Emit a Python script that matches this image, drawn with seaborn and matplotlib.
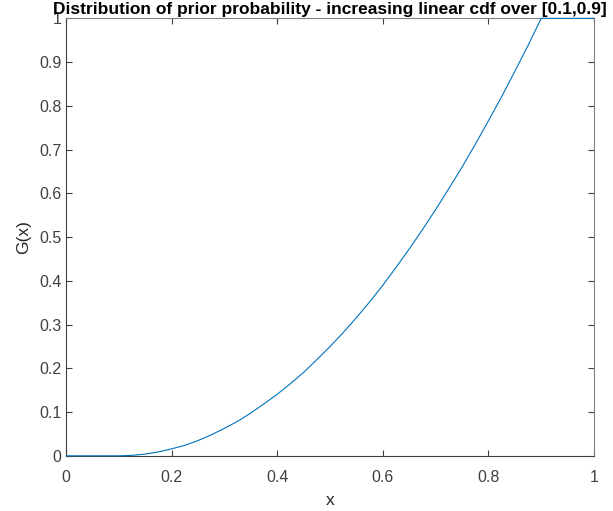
import numpy as np
import pandas as pd
import matplotlib
matplotlib.use("Agg")
import matplotlib.pyplot as plt
import seaborn as sns

# values
x_vals = [0.0, 0.05, 0.1, 0.125, 0.15, 0.175, 0.2, 0.225, 0.25, 0.275, 0.3, 0.325,
          0.35, 0.375, 0.4, 0.425, 0.45, 0.475, 0.5, 0.525, 0.55, 0.575, 0.6, 0.625,
          0.65, 0.675, 0.7, 0.725, 0.75, 0.775, 0.8, 0.825, 0.85, 0.875, 0.9, 0.95, 1.0]
g_vals = [0.0, 0.0, 0.0, 0.001, 0.004, 0.009, 0.016, 0.024, 0.035, 0.048, 0.063, 0.079,
          0.098, 0.119, 0.141, 0.165, 0.191, 0.22, 0.25, 0.282, 0.316, 0.352, 0.39, 0.431,
          0.473, 0.517, 0.563, 0.611, 0.66, 0.712, 0.766, 0.821, 0.879, 0.938, 1.0, 1.0, 1.0]
x_ticks = [0, 0.2, 0.4, 0.6, 0.8, 1]
x_labels = ["0", "0.2", "0.4", "0.6", "0.8", "1"]
y_ticks = [0, 0.1, 0.2, 0.3, 0.4, 0.5, 0.6, 0.7, 0.8, 0.9, 1]
y_labels = ["0", "0.1", "0.2", "0.3", "0.4", "0.5", "0.6", "0.7", "0.8", "0.9", "1"]

df = pd.DataFrame({"x": x_vals, "G": g_vals})

sns.set_style("ticks")
plt.rcParams["font.family"] = ["Liberation Sans", "DejaVu Sans"]

fig = plt.figure(figsize=(6.13, 5.11), dpi=100)
ax = fig.add_axes([0.108, 0.108, 0.861, 0.856])
sns.lineplot(data=df, x="x", y="G", ax=ax, color="#0072BD", linewidth=0.8)
for ln in ax.lines:
    ln.set_clip_on(False)
    ln.set_zorder(5)

ax.set_xlim(0, 1)
ax.set_ylim(0, 1)
ax.set_xticks(x_ticks)
ax.set_xticklabels(x_labels)
ax.set_yticks(y_ticks)
ax.set_yticklabels(y_labels)
for s in ax.spines.values():
    s.set_visible(True)
    s.set_color("#808080")
    s.set_linewidth(0.8)
ax.spines["left"].set_color("#404040")
ax.spines["bottom"].set_color("#404040")
ax.tick_params(direction="in", length=4, width=0.8, colors="#404040", labelsize=11.5,
               top=True, right=True, labeltop=False, labelright=False)
ax.tick_params(axis="x", pad=10)
ax.set_xlabel("x", fontsize=12.5, color="#262626", labelpad=6)
ax.set_ylabel("G(x)", fontsize=12.5, color="#262626", labelpad=6)
ax.set_title("Distribution of prior probability - increasing linear cdf over [0.1,0.9]",
             fontsize=12.5, fontweight="bold", color="black", pad=3)

fig.savefig("out.png", dpi=100)
